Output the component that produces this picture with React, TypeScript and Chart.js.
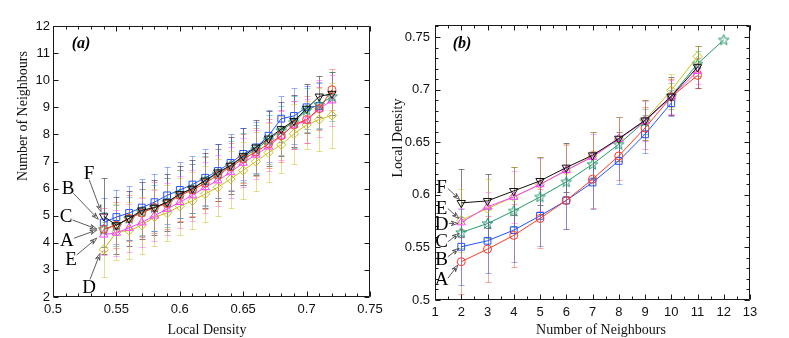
import React, { useEffect, useRef } from "react";
import { Chart, registerables } from "chart.js";

Chart.register(...registerables);

// ---------- Panel (a): Number of Neighbours vs Local Density ----------
const densityX = [0.54, 0.55, 0.56, 0.57, 0.58, 0.59, 0.6, 0.61, 0.62, 0.63, 0.64, 0.65, 0.66, 0.67, 0.68, 0.69, 0.7, 0.71, 0.72];
const nnA = [4.5, 4.65, 4.9, 5.1, 5.3, 5.45, 5.75, 5.95, 6.2, 6.5, 6.8, 7.1, 7.35, 7.65, 7.95, 8.35, 8.55, 8.95, 9.65];
const nnB = [4.75, 4.95, 5.1, 5.3, 5.5, 5.75, 5.95, 6.15, 6.4, 6.65, 6.95, 7.28, 7.52, 7.95, 8.58, 8.68, 9.0, 9.05];
const nnC = [4.5, 4.65, 4.9, 5.15, 5.3, 5.5, 5.8, 6.0, 6.3, 6.55, 6.85, 7.15, 7.45, 7.8, 8.15, 8.45, 8.9, 9.1, 9.4];
const nnD = [3.75, 4.4, 4.45, 4.65, 4.95, 5.1, 5.35, 5.55, 5.8, 6.05, 6.35, 6.67, 7.0, 7.33, 7.62, 8.02, 8.35, 8.55, 8.7];
const nnE = [4.3, 4.37, 4.55, 4.75, 5.0, 5.25, 5.5, 5.75, 6.05, 6.3, 6.6, 6.95, 7.25, 7.55, 7.95, 8.35, 8.5, 8.95, 9.25];
const nnF = [4.98, 4.65, 4.9, 5.2, 5.3, 5.5, 5.8, 6.0, 6.3, 6.6, 6.85, 7.2, 7.52, 7.85, 8.2, 8.5, 8.95, 9.4, 9.5];
const nnErrA = [0.8, 0.85, 0.85, 0.9, 0.95, 0.95, 0.95, 0.95, 0.95, 0.95, 0.9, 0.9, 0.9, 0.9, 0.95, 0.9, 0.85, 0.8, 0.75];
const nnErrB = [0.9, 1.0, 1.0, 1.05, 1.05, 1.05, 1.05, 1.05, 1.05, 1.0, 1.05, 0.95, 0.95, 0.95, 0.85, 1.05, 0.8, 0.85];
const nnErrC = [0.65, 0.75, 0.8, 0.85, 0.85, 0.9, 0.9, 0.9, 0.9, 0.9, 0.9, 0.9, 0.9, 0.9, 0.9, 0.95, 0.8, 0.85, 0.9];
const nnErrD = [1.0, 1.05, 1.05, 1.05, 1.05, 1.05, 1.05, 1.05, 1.05, 1.05, 1.05, 1.05, 1.1, 1.1, 1.05, 1.1, 0.9, 1.15, 1.2];
const nnErrE = [0.75, 0.85, 0.9, 0.9, 0.95, 0.95, 0.95, 0.95, 0.95, 0.95, 0.95, 0.9, 0.9, 0.9, 0.9, 0.9, 0.8, 1.05, 0.95];
const nnErrF = [1.4, 1.05, 1.0, 1.05, 1.0, 1.05, 1.05, 1.05, 1.0, 1.05, 1.05, 1.05, 1.0, 1.0, 1.0, 0.95, 0.9, 0.75, 0.8];
const aXTicks = [0.5, 0.55, 0.6, 0.65, 0.7, 0.75];
const aYTicks = [2, 3, 4, 5, 6, 7, 8, 9, 10, 11, 12];

// ---------- Panel (b): Local Density vs Number of Neighbours ----------
const neighX = [2, 3, 4, 5, 6, 7, 8, 9, 10, 11, 12];
const ldA = [0.5364, 0.5484, 0.5614, 0.5775, 0.5946, 0.6148, 0.6369, 0.6635, 0.693, 0.7135];
const ldB = [0.5506, 0.5563, 0.5664, 0.58, 0.5946, 0.6117, 0.6322, 0.6575, 0.6872];
const ldC = [0.5642, 0.5727, 0.5847, 0.598, 0.6123, 0.629, 0.648, 0.67, 0.694, 0.7245, 0.7473];
const ldD = [0.5759, 0.587, 0.598, 0.61, 0.623, 0.637, 0.653, 0.671, 0.6992, 0.7315];
const ldE = [0.5737, 0.5886, 0.598, 0.6098, 0.6233, 0.636, 0.653, 0.67, 0.693, 0.7176];
const ldF = [0.5923, 0.5942, 0.6037, 0.6132, 0.6259, 0.6376, 0.6534, 0.6708, 0.6935, 0.7214];
const ldErrA = [0.031, 0.031, 0.03, 0.028, 0.027, 0.027, 0.023, 0.02, 0.017, 0.012];
const ldErrB = [0.036, 0.031, 0.03, 0.029, 0.027, 0.025, 0.022, 0.018, 0.012];
const ldErrC = [0.015, 0.014, 0.015, 0.014, 0.013, 0.012, 0.012, 0.012, 0.012, 0.012, 0];
const ldErrD = [0.03, 0.028, 0.028, 0.026, 0.025, 0.023, 0.021, 0.019, 0.016, 0.01];
const ldErrE = [0.014, 0.014, 0.025, 0.025, 0.024, 0.022, 0.021, 0.019, 0.016, 0.012];
const ldErrF = [0.032, 0.026, 0.023, 0.023, 0.023, 0.022, 0.021, 0.019, 0.018, 0.02];
const bXTicks = [1, 2, 3, 4, 5, 6, 7, 8, 9, 10, 11, 12, 13];
const bYTicks = [0.5, 0.55, 0.6, 0.65, 0.7, 0.75];

// annotation letters: label position, arrow start, arrow end (data units)
const annotLetters = ["F", "B", "C", "A", "E", "D"];
const annotA_lx = [0.5284, 0.5118, 0.5103, 0.511, 0.5142, 0.5284];
const annotA_ly = [6.576, 6.02, 4.99, 4.1, 3.4, 2.37];
const annotA_sx = [0.5286, 0.516, 0.5155, 0.5166, 0.5187, 0.5292];
const annotA_sy = [6.32, 5.83, 4.84, 4.17, 3.55, 2.65];
const annotA_ex = [0.5379, 0.5357, 0.5345, 0.5345, 0.5345, 0.5371];
const annotA_ey = [5.15, 4.87, 4.51, 4.47, 4.17, 3.61];

const annotLettersB = ["F", "E", "D", "C", "B", "A"];
const annotB_lx = [1.249, 1.249, 1.249, 1.249, 1.249, 1.249];
const annotB_ly = [0.6075, 0.5873, 0.5721, 0.556, 0.5389, 0.5199];
const annotB_sx = [1.489, 1.489, 1.528, 1.489, 1.489, 1.489];
const annotB_sy = [0.606, 0.587, 0.5728, 0.5553, 0.5411, 0.5206];
const annotB_ex = [1.937, 1.91, 1.872, 1.91, 1.91, 1.872];
const annotB_ey = [0.5955, 0.5775, 0.5728, 0.5633, 0.549, 0.5332];

// ---------- styles ----------
const COLORS: Record<string, string> = {
  A: "#ff3b22",
  B: "#2052ff",
  C: "#239a68",
  D: "#c8c01c",
  E: "#ff40ff",
  F: "#111111",
};
const ERR_COLORS: Record<string, string> = {
  A: "rgba(255,59,34,0.45)",
  B: "rgba(32,82,255,0.45)",
  C: "rgba(35,154,104,0.45)",
  D: "rgba(200,192,28,0.5)",
  E: "rgba(255,64,255,0.45)",
  F: "rgba(40,20,40,0.55)",
};

function makePentagram(color: string): HTMLCanvasElement {
  const c = document.createElement("canvas");
  c.width = 13;
  c.height = 13;
  const ctx = c.getContext("2d")!;
  ctx.strokeStyle = color;
  ctx.lineWidth = 1;
  ctx.beginPath();
  for (let i = 0; i < 10; i++) {
    const r = i % 2 === 0 ? 5.6 : 2.3;
    const a = -Math.PI / 2 + (i * Math.PI) / 5;
    const x = 6.5 + r * Math.cos(a);
    const y = 6.8 + r * Math.sin(a);
    if (i === 0) ctx.moveTo(x, y);
    else ctx.lineTo(x, y);
  }
  ctx.closePath();
  ctx.stroke();
  return c;
}

function markerFor(key: string): any {
  switch (key) {
    case "A":
      return { pointStyle: "circle", pointRadius: 4, pointRotation: 0 };
    case "B":
      return { pointStyle: "rect", pointRadius: 4.8, pointRotation: 0 };
    case "C":
      return { pointStyle: makePentagram(COLORS.C), pointRadius: 5, pointRotation: 0 };
    case "D":
      return { pointStyle: "rectRot", pointRadius: 4.6, pointRotation: 0 };
    case "E":
      return { pointStyle: "triangle", pointRadius: 4.8, pointRotation: 0 };
    default:
      return { pointStyle: "triangle", pointRadius: 4.8, pointRotation: 180 };
  }
}

function makeDataset(key: string, xs: number[], ys: number[], errs: number[]) {
  const m = markerFor(key);
  return {
    label: key,
    data: ys.map((v, i) => ({ x: xs[i], y: v })),
    errors: errs,
    errorColor: ERR_COLORS[key],
    borderColor: COLORS[key],
    backgroundColor: "rgba(0,0,0,0)",
    pointBorderColor: COLORS[key],
    pointBackgroundColor: "rgba(0,0,0,0)",
    borderWidth: 1,
    pointBorderWidth: 1,
    pointHoverRadius: m.pointRadius,
    tension: 0,
    ...m,
  };
}

const errorBarPlugin = {
  id: "errbars",
  beforeDatasetsDraw(chart: any) {
    const { ctx } = chart;
    const xs = chart.scales.x;
    const ys = chart.scales.y;
    ctx.save();
    ctx.lineWidth = 1;
    chart.data.datasets.forEach((ds: any) => {
      if (!ds.errors) return;
      ctx.strokeStyle = ds.errorColor;
      ds.data.forEach((p: any, j: number) => {
        const e = ds.errors[j];
        if (!e) return;
        const px = Math.round(xs.getPixelForValue(p.x)) + 0.5;
        const y1 = Math.round(ys.getPixelForValue(p.y - e)) + 0.5;
        const y2 = Math.round(ys.getPixelForValue(p.y + e)) + 0.5;
        ctx.beginPath();
        ctx.moveTo(px, y1);
        ctx.lineTo(px, y2);
        ctx.moveTo(px - 3, y1);
        ctx.lineTo(px + 3, y1);
        ctx.moveTo(px - 3, y2);
        ctx.lineTo(px + 3, y2);
        ctx.stroke();
      });
    });
    ctx.restore();
  },
};

function drawArrow(ctx: CanvasRenderingContext2D, x1: number, y1: number, x2: number, y2: number) {
  const ang = Math.atan2(y2 - y1, x2 - x1);
  const L = 7;
  const w = 0.32;
  const ax = x2 - L * Math.cos(ang - w);
  const ay = y2 - L * Math.sin(ang - w);
  const bx = x2 - L * Math.cos(ang + w);
  const by = y2 - L * Math.sin(ang + w);
  const cx = x2 - 0.6 * L * Math.cos(ang);
  const cy = y2 - 0.6 * L * Math.sin(ang);
  ctx.beginPath();
  ctx.moveTo(x1, y1);
  ctx.lineTo(cx, cy);
  ctx.moveTo(ax, ay);
  ctx.lineTo(x2, y2);
  ctx.lineTo(bx, by);
  ctx.lineTo(cx, cy);
  ctx.closePath();
  ctx.stroke();
}

function makeDecorPlugin(cfg: {
  xMinorStep: number;
  yMinorStep: number;
  xMinorFrom: number;
  xMinorTo: number;
  yMinorFrom: number;
  yMinorTo: number;
  yTitle: string;
  yTitlePos: [number, number];
  xTitle: string;
  xTitlePos: [number, number];
  panel: string;
  panelPos: [number, number];
  letters: string[];
  lx: number[];
  ly: number[];
  sx: number[];
  sy: number[];
  ex: number[];
  ey: number[];
}) {
  return {
    id: "decor",
    afterDatasetsDraw(chart: any) {
      const { ctx, chartArea } = chart;
      const { left, right, top, bottom } = chartArea;
      const xs = chart.scales.x;
      const ys = chart.scales.y;
      const L = Math.round(left) + 0.5;
      const R = Math.round(right) - 0.5;
      const T = Math.round(top) + 0.5;
      const B = Math.round(bottom) - 0.5;
      ctx.save();
      ctx.strokeStyle = "#1a1a1a";
      ctx.lineWidth = 1;
      ctx.beginPath();
      ctx.rect(L, T, R - L, B - T);
      ctx.stroke();

      const drawXTick = (v: number, len: number) => {
        const px = Math.round(xs.getPixelForValue(v)) + 0.5;
        ctx.moveTo(px, B);
        ctx.lineTo(px, B - len);
        ctx.moveTo(px, T);
        ctx.lineTo(px, T + len);
      };
      const drawYTick = (v: number, len: number) => {
        const py = Math.round(ys.getPixelForValue(v)) + 0.5;
        ctx.moveTo(L, py);
        ctx.lineTo(L + len, py);
        ctx.moveTo(R, py);
        ctx.lineTo(R - len, py);
      };
      ctx.beginPath();
      xs.ticks.forEach((t: any) => drawXTick(t.value, 5));
      ys.ticks.forEach((t: any) => drawYTick(t.value, 5));
      if (cfg.xMinorStep > 0) {
        const n = Math.round((cfg.xMinorTo - cfg.xMinorFrom) / cfg.xMinorStep);
        for (let i = 0; i <= n; i++) drawXTick(cfg.xMinorFrom + i * cfg.xMinorStep, 3);
      }
      if (cfg.yMinorStep > 0) {
        const n = Math.round((cfg.yMinorTo - cfg.yMinorFrom) / cfg.yMinorStep);
        for (let i = 0; i <= n; i++) drawYTick(cfg.yMinorFrom + i * cfg.yMinorStep, 3);
      }
      ctx.stroke();

      // annotations
      ctx.strokeStyle = "#333";
      ctx.lineWidth = 0.8;
      ctx.fillStyle = "#000";
      ctx.font = "19px 'Liberation Serif', 'DejaVu Serif', serif";
      ctx.textAlign = "center";
      ctx.textBaseline = "middle";
      cfg.letters.forEach((t, i) => {
        ctx.fillText(t, xs.getPixelForValue(cfg.lx[i]), ys.getPixelForValue(cfg.ly[i]) + 1);
        drawArrow(
          ctx,
          xs.getPixelForValue(cfg.sx[i]),
          ys.getPixelForValue(cfg.sy[i]),
          xs.getPixelForValue(cfg.ex[i]),
          ys.getPixelForValue(cfg.ey[i])
        );
      });

      // panel label
      ctx.font = "italic bold 16px 'Liberation Serif', serif";
      ctx.fillText(cfg.panel, cfg.panelPos[0], cfg.panelPos[1]);

      // axis titles
      ctx.font = "14px 'Liberation Serif', serif";
      ctx.fillStyle = "#111";
      ctx.fillText(cfg.xTitle, cfg.xTitlePos[0], cfg.xTitlePos[1]);
      ctx.translate(cfg.yTitlePos[0], cfg.yTitlePos[1]);
      ctx.rotate(-Math.PI / 2);
      ctx.fillText(cfg.yTitle, 0, 0);
      ctx.restore();
    },
  };
}

const fmt = (v: any) => String(+Number(v).toFixed(3));
const tickFont = { family: "'Liberation Sans', Arial, sans-serif", size: 13 };

function axisOpts(min: number, max: number, ticksList: number[], isX: boolean, fitSize: number, pad: number) {
  return {
    type: "linear",
    min,
    max,
    grid: { display: false, drawTicks: false },
    border: { display: false },
    afterBuildTicks: (s: any) => {
      s.ticks = ticksList.map((v) => ({ value: v }));
    },
    afterFit: (s: any) => {
      if (isX) s.height = fitSize;
      else s.width = fitSize;
    },
    ticks: {
      color: "#111",
      font: tickFont,
      padding: pad,
      autoSkip: false,
      maxRotation: 0,
      callback: fmt,
    },
  };
}

export default function App() {
  const refA = useRef<HTMLCanvasElement>(null);
  const refB = useRef<HTMLCanvasElement>(null);

  useEffect(() => {
    const chartA = new Chart(refA.current as HTMLCanvasElement, {
      type: "line",
      data: {
        datasets: [
          makeDataset("F", densityX, nnF, nnErrF),
          makeDataset("A", densityX, nnA, nnErrA),
          makeDataset("C", densityX, nnC, nnErrC),
          makeDataset("B", densityX, nnB, nnErrB),
          makeDataset("E", densityX, nnE, nnErrE),
          makeDataset("D", densityX, nnD, nnErrD),
        ] as any,
      },
      options: {
        animation: false,
        responsive: false,
        devicePixelRatio: 1,
        layout: { padding: { left: 0, right: 20, top: 26, bottom: 0 } },
        plugins: { legend: { display: false }, tooltip: { enabled: false } },
        scales: {
          x: axisOpts(0.5, 0.75, aXTicks, true, 41, 5) as any,
          y: axisOpts(2, 12, aYTicks, false, 53, 3) as any,
        },
      },
      plugins: [
        errorBarPlugin,
        makeDecorPlugin({
          xMinorStep: 0.01,
          yMinorStep: 0,
          xMinorFrom: 0.5,
          xMinorTo: 0.75,
          yMinorFrom: 2,
          yMinorTo: 12,
          yTitle: "Number of Neighbours",
          yTitlePos: [23, 116],
          xTitle: "Local Density",
          xTitlePos: [207, 330],
          panel: "(a)",
          panelPos: [81, 44],
          letters: annotLetters,
          lx: annotA_lx,
          ly: annotA_ly,
          sx: annotA_sx,
          sy: annotA_sy,
          ex: annotA_ex,
          ey: annotA_ey,
        }),
      ] as any,
    });

    const chartB = new Chart(refB.current as HTMLCanvasElement, {
      type: "line",
      data: {
        datasets: [
          makeDataset("F", neighX, ldF, ldErrF),
          makeDataset("E", neighX, ldE, ldErrE),
          makeDataset("D", neighX, ldD, ldErrD),
          makeDataset("C", neighX, ldC, ldErrC),
          makeDataset("A", neighX, ldA, ldErrA),
          makeDataset("B", neighX, ldB, ldErrB),
        ] as any,
      },
      options: {
        animation: false,
        responsive: false,
        devicePixelRatio: 1,
        layout: { padding: { left: 0, right: 39, top: 25, bottom: 0 } },
        plugins: { legend: { display: false }, tooltip: { enabled: false } },
        scales: {
          x: axisOpts(1, 13, bXTicks, true, 38, 5) as any,
          y: axisOpts(0.5, 0.7614, bYTicks, false, 50, 5) as any,
        },
      },
      plugins: [
        errorBarPlugin,
        makeDecorPlugin({
          xMinorStep: 0.5,
          yMinorStep: 0.01,
          xMinorFrom: 1,
          xMinorTo: 13,
          yMinorFrom: 0.5,
          yMinorTo: 0.76,
          yTitle: "Local Density",
          yTitlePos: [13, 138],
          xTitle: "Number of Neighbours",
          xTitlePos: [216, 330],
          panel: "(b)",
          panelPos: [77, 44],
          letters: annotLettersB,
          lx: annotB_lx,
          ly: annotB_ly,
          sx: annotB_sx,
          sy: annotB_sy,
          ex: annotB_ex,
          ey: annotB_ey,
        }),
      ] as any,
    });

    return () => {
      chartA.destroy();
      chartB.destroy();
    };
  }, []);

  return (
    <div style={{ position: "fixed", left: 0, top: 0, width: 789, height: 338, background: "#fff" }}>
      <canvas
        ref={refA}
        width={390}
        height={338}
        style={{ position: "absolute", left: 0, top: 0, width: 390, height: 338 }}
      />
      <canvas
        ref={refB}
        width={404}
        height={338}
        style={{ position: "absolute", left: 385, top: 0, width: 404, height: 338 }}
      />
    </div>
  );
}
